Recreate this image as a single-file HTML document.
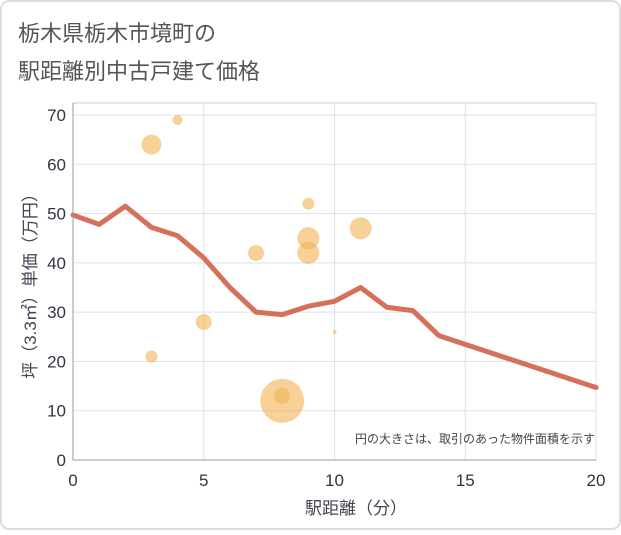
<!DOCTYPE html>
<html><head><meta charset="utf-8"><style>
body{margin:0;background:#fff;}
svg text{font-family:"Liberation Sans","Noto Sans CJK JP",sans-serif;}
</style></head><body>
<svg width="621" height="530" xmlns="http://www.w3.org/2000/svg">
<rect x="1" y="1" width="619" height="528" rx="8" fill="#fff" stroke="#ddd" stroke-width="2"/>
<text x="18" y="41" font-size="22" fill="#555">栃木県栃木市境町の</text>
<text x="18" y="79" font-size="22" fill="#555">駅距離別中古戸建て価格</text>
<g id="grid"></g>
<g id="bubbles"></g>
<g id="line"></g>
<g id="axes"></g>
<text x="595" y="443" font-size="12" fill="#444" text-anchor="end">円の大きさは、取引のあった物件面積を示す</text>
<text x="356" y="514" font-size="17" fill="#445" text-anchor="middle">駅距離（分）</text>
<text transform="translate(36,282) rotate(-90)" font-size="17" fill="#445" text-anchor="middle">坪（3.3㎡）単価（万円）</text>
</svg>
<script>
const lineX=[0,1,2,3,4,5,6,7,8,9,10,11,12,13,14,15,16,17,18,19,20];
const lineY=[49.7,47.8,51.5,47.2,45.5,41,35,30,29.5,31.2,32.2,35,31,30.3,25.2,23.45,21.7,19.95,18.2,16.45,14.7];
const bubX=[3,4,3,5,7,8,8,9,9,9,10,11];
const bubY=[64,69,21,28,42,12,13,52,45,42,26,47];
const bubR=[10,5,6,8,8,22,8,6,11,11,2,11];
const xTicks=[0,5,10,15,20];
const yTicks=[0,10,20,30,40,50,60,70];
const NS="http://www.w3.org/2000/svg";
const X0=73,X1=596,Y0=460,Y1=103;
const sx=v=>X0+(X1-X0)*v/20;
const sy=v=>Y0-(Y0-115)*v/70;
function mk(t,a,p){const e=document.createElementNS(NS,t);for(const k in a)e.setAttribute(k,a[k]);p.appendChild(e);return e;}
const grid=document.getElementById('grid'),axes=document.getElementById('axes');
mk('rect',{x:X0,y:Y1,width:X1-X0,height:Y0-Y1,fill:'none',stroke:'#ccc'},grid);
xTicks.forEach(t=>{
 const l=mk('line',{x1:sx(t),x2:sx(t),y1:Y1,y2:Y0,stroke:'#d8e3ee'},grid);
 
 
 const tx=mk('text',{x:sx(t),y:486,'font-size':17,fill:'#334','text-anchor':'middle'},axes);
 tx.textContent=t;
 
 
});
yTicks.forEach(t=>{
 const l=mk('line',{x1:X0,x2:X1,y1:sy(t),y2:sy(t),stroke:'#d8e3ee'},grid);
 
 
 const tx=mk('text',{x:66,y:sy(t)+6,'font-size':17,fill:'#334','text-anchor':'end'},axes);
 tx.textContent=t;
 
 
});
mk('line',{x1:X0,x2:X0,y1:Y1,y2:Y0,stroke:'#999'},axes);
mk('line',{x1:X0,x2:X1,y1:Y0,y2:Y0,stroke:'#999'},axes);
const bg=document.getElementById('bubbles');
bubX.forEach((x,i)=>{
 const c=mk('circle',{cx:sx(x),cy:sy(bubY[i]),r:bubR[i],fill:'rgba(242,178,84,0.6)'},bg);
 
 
});
const p=mk('polyline',{points:lineX.map((x,i)=>sx(x)+','+sy(lineY[i])).join(' '),fill:'none',stroke:'#d5705a','stroke-width':5,'stroke-linejoin':'round','stroke-linecap':'round'},document.getElementById('line'));


</script>
</body></html>
